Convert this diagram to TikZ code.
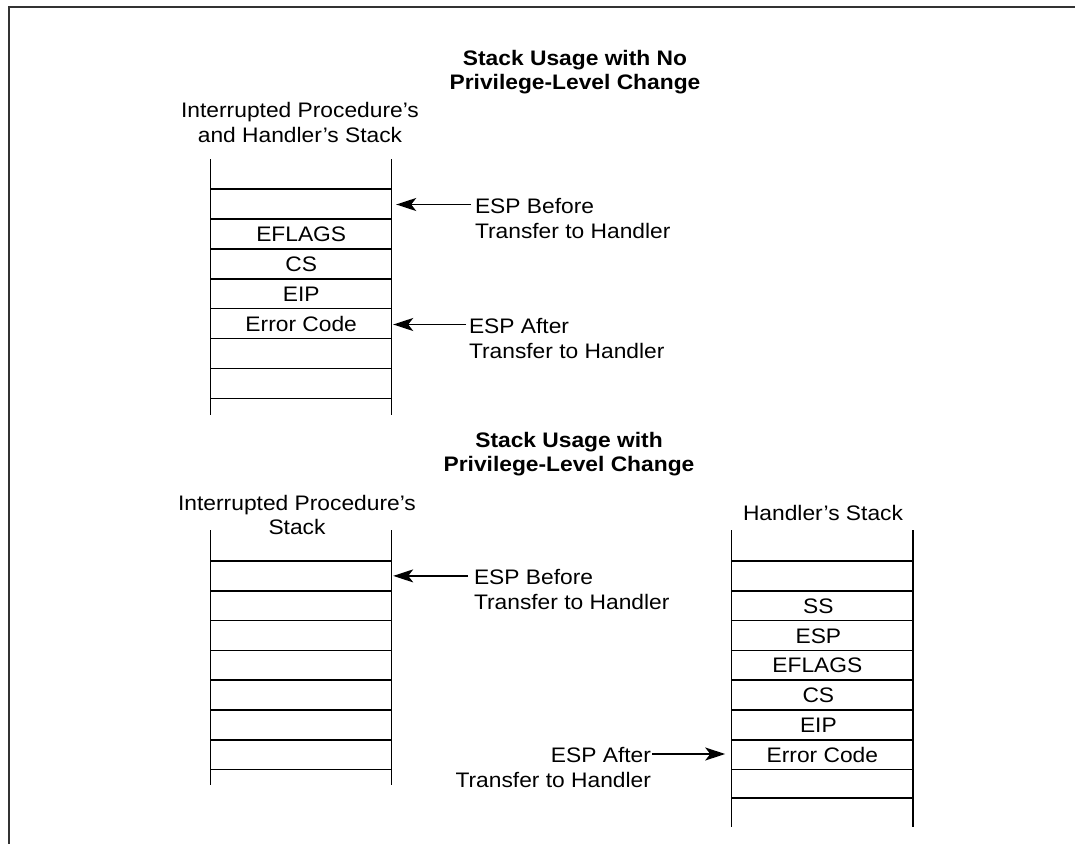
\documentclass[tikz,border=0pt]{standalone}
\usepackage{fontspec}
\setmainfont{Liberation Sans}[FakeStretch=1.085]
\usetikzlibrary{arrows.meta}
\begin{document}
\begin{tikzpicture}[x=1pt,y=-1pt,
  every node/.style={font=\fontsize{21}{24.5}\selectfont, inner sep=0pt, outer sep=0pt},
  frameline/.style={line width=2.5pt, draw=black!80},
  stackline/.style={line width=1.5pt},
  cell/.style={minimum width=181pt, minimum height=29pt, text height=15pt, text depth=0pt},
  ttl/.style={font=\bfseries\fontsize{21}{24.5}\selectfont, align=center, anchor=base},
  lbl/.style={align=center, anchor=base},
  lbll/.style={align=left, anchor=base west},
  lblr/.style={align=right, anchor=base east},
  ptr/.style={line width=1.5pt, arrows={-Stealth[length=20pt,width=13pt,inset=5pt]}}]
\useasboundingbox (0,0) rectangle (1075,843);
% frame
\draw[frameline] (1080,7) -- (9,7) -- (9,850);

% ---------- upper part ----------
% (multi-line nodes: base anchor = baseline of the last line)
\node[ttl] (title1) at (575,89.5) {Stack Usage with No\\Privilege-Level Change};
\node[lbl] (lab1) at (300,142) {Interrupted Procedure's\\and Handler's Stack};
\draw[stackline] (210.7,159) -- (210.7,415) (391.7,159) -- (391.7,415);
\foreach \k in {0,...,7}
  \draw[stackline] (210.7,189+29.93*\k) -- (391.7,189+29.93*\k);
\node[cell] (a1) at (301.2,203.95) {};
\node[cell] (a2) at (301.2,233.9) {EFLAGS};
\node[cell] (a3) at (301.2,263.8) {CS};
\node[cell] (a4) at (301.2,293.7) {EIP};
\node[cell] (a5) at (301.2,323.7) {Error Code};
\node[lbll] (eb1) at (475,238) {ESP Before\\Transfer to Handler};
\node[lbll] (ea1) at (469,358) {ESP After\\Transfer to Handler};
\coordinate (tb1) at (471,204.5);
\coordinate (ta1) at (466,324.5);
\draw[ptr] (tb1) -- ([xshift=4.5pt]a1.east |- tb1);
\draw[ptr] (ta1) -- ([xshift=1.5pt]a5.east |- ta1);

% ---------- lower part ----------
\node[ttl] (title2) at (569,471.5) {Stack Usage with\\Privilege-Level Change};
\node[lbl] (lab2) at (297,534.5) {Interrupted Procedure's\\Stack};
\node[lbl] (lab3) at (823,520) {Handler's Stack};
% left stack
\draw[stackline] (210.7,530) -- (210.7,785) (391.7,530) -- (391.7,785);
\foreach \k in {0,...,7}
  \draw[stackline] (210.7,561+29.8*\k) -- (391.7,561+29.8*\k);
\node[cell] (b1) at (301.2,575.9) {};
% right stack
\draw[stackline] (731.7,530) -- (731.7,827) (913,530) -- (913,827);
\foreach \k in {0,...,7}
  \draw[stackline] (731.7,561+29.8*\k) -- (913,561+29.8*\k);
\draw[stackline] (731.7,798) -- (913,798);
\node[cell, minimum width=181.3pt] (c1) at (822.35,605.7) {\hspace{-8pt}SS};
\node[cell, minimum width=181.3pt] (c2) at (822.35,635.5) {\hspace{-8pt}ESP};
\node[cell, minimum width=181.3pt] (c3) at (822.35,665.3) {\hspace{-10pt}EFLAGS};
\node[cell, minimum width=181.3pt] (c4) at (822.35,695.1) {\hspace{-8pt}CS};
\node[cell, minimum width=181.3pt] (c5) at (822.35,724.9) {\hspace{-8pt}EIP};
\node[cell, minimum width=181.3pt] (c6) at (822.35,754.7) {Error Code};
\node[lbll] (eb2) at (474,609) {ESP Before\\Transfer to Handler};
\node[lblr] (ea2) at (651,787) {ESP After\\Transfer to Handler};
\coordinate (tb2) at (468,575.9);
\coordinate (ta2) at (652,754);
\draw[ptr] (tb2) -- ([xshift=1.5pt]b1.east |- tb2);
\draw[ptr] (ta2) -- ([xshift=-6.5pt]c6.west |- ta2);
\end{tikzpicture}
\end{document}
